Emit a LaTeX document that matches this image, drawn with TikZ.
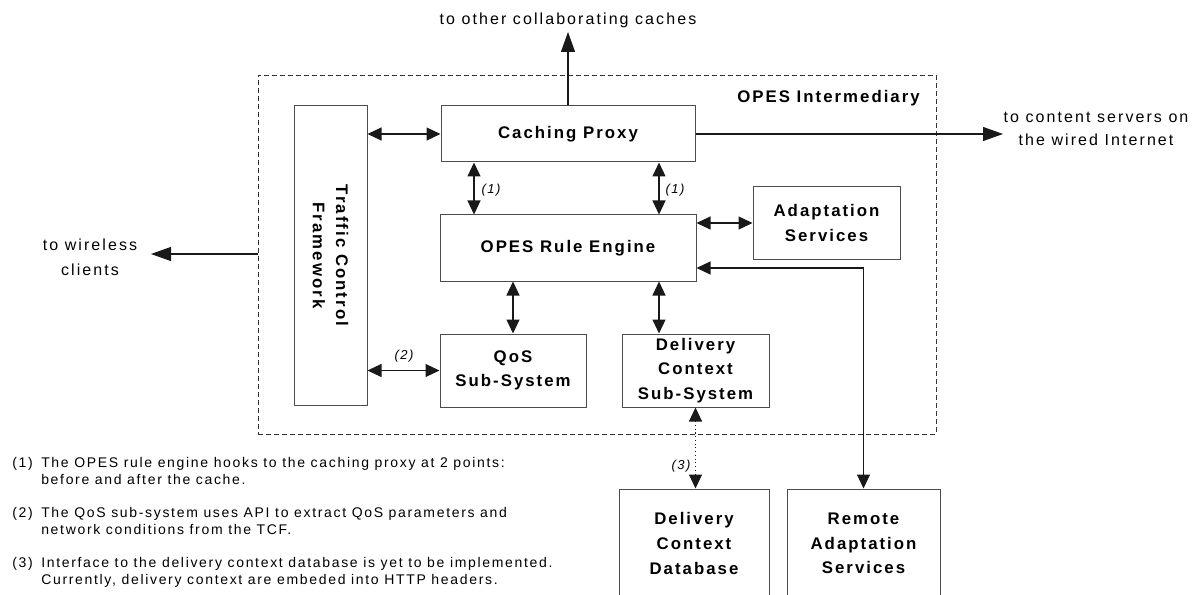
\documentclass[tikz,border=0pt]{standalone}
\usepackage{fontspec}
\setmainfont{Liberation Sans}
\newfontfamily\lspb{Liberation Sans}[LetterSpace=12]
\newfontfamily\lspr{Liberation Sans}[LetterSpace=13]
\newfontfamily\lspf{Liberation Sans}[LetterSpace=12]
\usetikzlibrary{arrows.meta}
\newcommand{\bx}[1]{\lspb\bfseries\fontsize{12.6}{#1}\selectfont}
\newcommand{\rg}[1]{\lspr\fontsize{12}{#1}\selectfont}
\newcommand{\fn}{\lspf\fontsize{10.5}{12.75}\selectfont}
\begin{document}
\begin{tikzpicture}[x=0.75pt,y=-0.75pt,
  box/.style={draw=black!70, line width=0.75pt, inner sep=0pt, align=center, font=\bx{18.4}},
  conn/.style={draw=black!90, line width=0.8pt},
  tip/.style={-{Triangle[length=15pt,width=10.5pt]}},
  both/.style={{Triangle[length=10.5pt,width=9.75pt]}-{Triangle[length=10.5pt,width=9.75pt]}},
  lab/.style={font=\lspf\itshape\fontsize{9.75}{11}\selectfont, inner sep=0pt},
  fnl/.style={font=\fn, anchor=base west, inner sep=0pt}]
\clip (0,0) rectangle (1198,595);
\useasboundingbox (0,0) rectangle (1198,595);

% OPES intermediary border
\node[draw=black!80, dash pattern=on 3.75pt off 2.25pt, line width=0.6pt, minimum width=508.5pt, minimum height=269.25pt, inner sep=0pt] (interm) at (597,254.5) {};
\node[font=\bx{15}, anchor=base east, inner sep=0pt] (intlab) at (920,103) {OPES Intermediary};

% boxes
\node[box, minimum width=190.5pt, minimum height=42pt] (cp) at (568,134) {Caching Proxy};
\node[box, minimum width=54.75pt, minimum height=224.25pt] (tcf) at (330.5,255.5) {};
\node[font=\bx{17.25}, align=center, rotate=-90, inner sep=0pt] (tcftext) at (tcf.center) {Traffic Control\\Framework};
\node[box, minimum width=192pt, minimum height=49.5pt] (ore) at (568,248) {OPES Rule Engine};
\node[box, minimum width=110.25pt, minimum height=54pt] (as) at (826.5,223) {Adaptation\\Services};
\node[box, minimum width=109.5pt, minimum height=54.75pt] (qos) at (513,370.5) {QoS\\Sub-System};
\node[box, minimum width=110.25pt, minimum height=54.75pt] (dcs) at (695.5,370.5) {Delivery\\Context\\Sub-System};
\node[box, minimum width=112.5pt, minimum height=81.75pt] (dcd) at (694,543.5) {Delivery\\Context\\Database};
\node[box, minimum width=114.75pt, minimum height=81.75pt] (ras) at (863.5,543.5) {Remote\\Adaptation\\Services};

% outside labels
\node[font=\rg{18}, inner sep=0pt] (top) at (568,20) {to other collaborating caches};
\node[font=\rg{17.25}, align=center, inner sep=0pt] (cs) at (1096,128.5) {to content servers on\\the wired Internet};
\node[font=\rg{18.75}, align=center, inner sep=0pt] (wc) at (90,257.5) {to wireless\\clients};

% connectors
\draw[conn,tip] (cp.north) -- (568,32);
\draw[conn,tip] (cp.east) -- (1003,134);
\coordinate (wl) at (258,254);
\draw[conn,tip] (wl) -- (151,254);
\draw[conn,both] (tcf.east |- cp) -- (cp.west);
\draw[conn,both] (cp.south -| 474,0) -- (ore.north -| 474,0);
\draw[conn,both] (cp.south -| 659,0) -- (ore.north -| 659,0);
\draw[conn,both] (ore.east |- as) -- (as.west);
\draw[conn,both] (ore.south -| qos) -- (qos.north);
\draw[conn,both] (ore.south -| 659,0) -- (dcs.north -| 659,0);
\draw[conn,both] (tcf.east |- qos) -- (qos.west);
\draw[conn,both] (ras.north) |- (ore.east |- 0,268);
\draw[conn,both, dotted] (dcs.south) -- (dcs.south |- dcd.north);

% small labels
\node[lab] (l1a) at (491,190) {(1)};
\node[lab] (l1b) at (675,190) {(1)};
\node[lab] (l2) at (404,356) {(2)};
\node[lab] (l3) at (681,466) {(3)};

% footnotes
\node[fnl] (n1) at (12,467) {(1)};
\node[fnl] (f1a) at (41,467) {The OPES rule engine hooks to the caching proxy at 2 points:};
\node[fnl] (f1b) at (41,484) {before and after the cache.};
\node[fnl] (n2) at (12,517) {(2)};
\node[fnl] (f2a) at (41,517) {The QoS sub-system uses API to extract QoS parameters and};
\node[fnl] (f2b) at (41,534) {network conditions from the TCF.};
\node[fnl] (n3) at (12,567) {(3)};
\node[fnl] (f3a) at (41,567) {Interface to the delivery context database is yet to be implemented.};
\node[fnl] (f3b) at (41,584) {Currently, delivery context are embeded into HTTP headers.};
\end{tikzpicture}
\end{document}
